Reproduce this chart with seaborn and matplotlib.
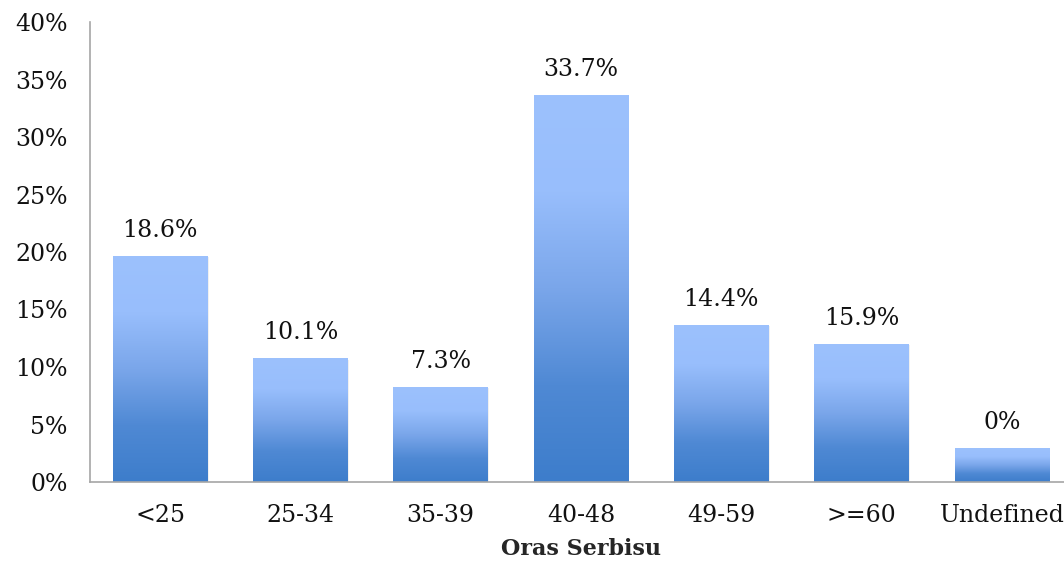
import numpy as np
import matplotlib
matplotlib.use("Agg")
import matplotlib.pyplot as plt
from matplotlib.colors import LinearSegmentedColormap
import seaborn as sns

categories = ['<25', '25-34', '35-39', '40-48', '49-59', '>=60', 'Undefined']
bar_heights = [19.65, 10.75, 8.25, 33.65, 13.65, 12.0, 2.95]
bar_labels = ['18.6%', '10.1%', '7.3%', '33.7%', '14.4%', '15.9%', '0%']
y_ticks = [0, 5, 10, 15, 20, 25, 30, 35, 40]

sns.set_style('white')
plt.rcParams['font.family'] = ['DejaVu Serif']

fig = plt.figure(figsize=(10.64, 5.67), dpi=100)
ax = fig.add_axes([90 / 1064, 85 / 567, 982 / 1064, 460 / 567])

sns.barplot(x=categories, y=bar_heights, width=0.675, color='#6a9be0', ax=ax)

# gradient fill, light top -> dark bottom, per bar
cmap = LinearSegmentedColormap.from_list('bar', ['#3d7dcb', '#4f89d4', '#7aa6ea', '#98befc', '#9cc1fd'])
grad = np.linspace(0, 1, 256).reshape(-1, 1)
for p in ax.patches:
    x0, y0 = p.get_x(), p.get_y()
    w, h = p.get_width(), p.get_height()
    # soft shadow
    ax.bar(x0 + w / 2 + 0.008, h, width=w, bottom=-0.1, color='#000000', alpha=0.06,
           zorder=0.5, linewidth=0)
    p.set_facecolor('none')
    p.set_edgecolor('none')
    im = ax.imshow(grad, cmap=cmap, origin='lower', aspect='auto',
                   extent=[x0, x0 + w, y0, y0 + h], zorder=1)
    im.set_clip_path(p)

for i, (h, lab) in enumerate(zip(bar_heights, bar_labels)):
    ax.text(i, h + 2.25, lab, ha='center', va='center', fontsize=17, color='#111111')

ax.set_xlim(-0.5, 6.5)
ax.set_ylim(0, 40)
ax.set_yticks(y_ticks)
ax.set_yticklabels([f'{v}%' for v in y_ticks], fontsize=17, color='#111111')
ax.set_xticks(range(len(categories)))
ax.set_xticklabels(categories, fontsize=17, color='#111111')
ax.set_xticks(np.arange(-0.5, 7.0, 1.0), minor=True)

ax.tick_params(axis='x', which='major', length=0, pad=16)
ax.tick_params(axis='x', which='minor', direction='out', length=7, width=1.2, color='#a6a6a6')
ax.tick_params(axis='y', direction='out', length=7, width=1.2, color='#a6a6a6', pad=9)

for side in ['top', 'right']:
    ax.spines[side].set_visible(False)
for side in ['left', 'bottom']:
    ax.spines[side].set_color('#a6a6a6')
    ax.spines[side].set_linewidth(1.2)

ax.set_xlabel('Oras Serbisu', fontsize=16, fontweight='bold', labelpad=8)
ax.set_ylabel('')

fig.savefig('out.png', dpi=100)
